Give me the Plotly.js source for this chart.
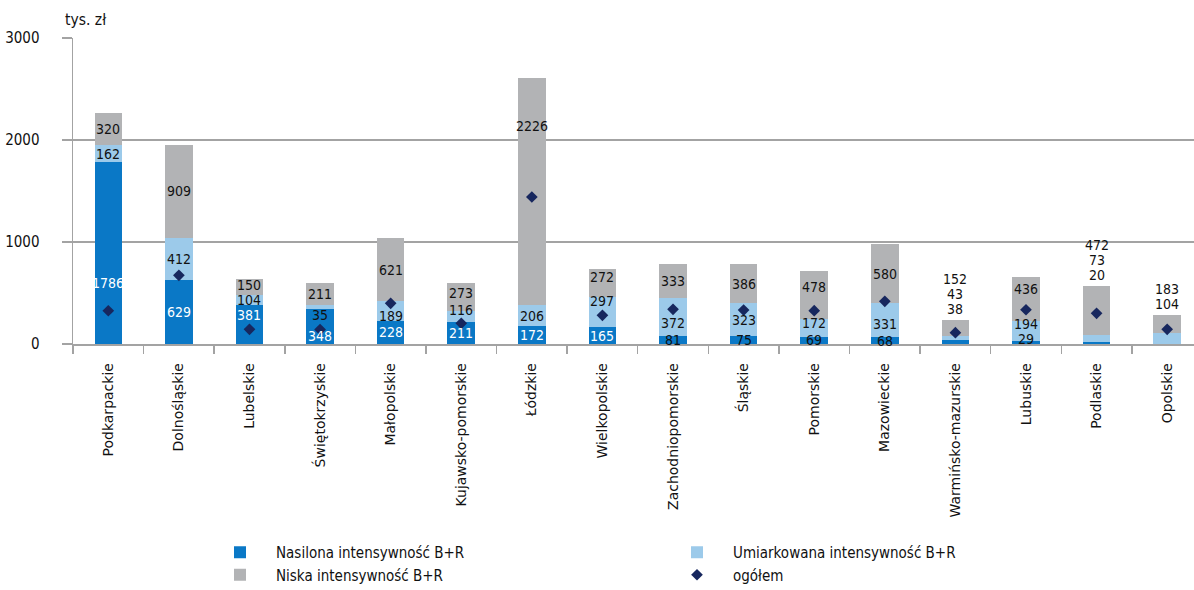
<!DOCTYPE html>
<html><head><meta charset="utf-8">
<script src="https://cdn.plot.ly/plotly-3.0.1.min.js"></script>
<style>html,body{margin:0;padding:0;background:#fff}#chart{width:1194px;height:590px}</style>
</head><body><div id="chart"></div>
<script>
// ---- data ----
const regions = ['Podkarpackie','Dolnośląskie','Lubelskie','Świętokrzyskie','Małopolskie','Kujawsko-pomorskie','Łódzkie','Wielkopolskie','Zachodniopomorskie','Śląskie','Pomorskie','Mazowieckie','Warmińsko-mazurskie','Lubuskie','Podlaskie','Opolskie'];
const nasilona    = [1786, 629, 381, 348, 228, 211, 172, 165,  81,  75,  69,  68,  38,  29,  20,   0];
const umiarkowana = [ 162, 412, 104,  35, 189, 116, 206, 297, 372, 323, 172, 331,  43, 194,  73, 104];
const niska       = [ 320, 909, 150, 211, 621, 273,2226, 272, 333, 386, 478, 580, 152, 436, 472, 183];
const ogolem      = [ 326, 673, 144, 142, 399, 203,1441, 281, 340, 333, 327, 418, 111, 336, 301, 144];
const seriesNames = ['Nasilona intensywność B+R','Umiarkowana intensywność B+R','Niska intensywność B+R','ogółem'];
const yTicks = [0, 1000, 2000, 3000];
const unitLabel = 'tys. zł';

// ---- style ----
const colors = ['#0a78c6', '#9ccaea', '#b2b3b5', '#17275e'];
const numFont = '"DejaVu Sans Condensed", "Liberation Sans Narrow", sans-serif';
const catFont = '"DejaVu Sans", sans-serif';
const gridCol = '#a3a3a3';
// label placement: regions whose labels are stacked above the bar
const labelsAbove = ['Warmińsko-mazurskie','Podlaskie','Opolskie'];
// small pixel nudges for in-bar labels (region|seriesIndex -> px up)
const nudge = {
  'Podkarpackie|0': -30, 'Lubelskie|0': 10, 'Lubelskie|2': 2, 'Świętokrzyskie|0': -10, 'Świętokrzyskie|1': -8,
  'Małopolskie|1': -5, 'Kujawsko-pomorskie|1': 7, 'Kujawsko-pomorskie|2': 4, 'Łódzkie|2': 66,
  'Wielkopolskie|1': 11, 'Wielkopolskie|2': 6, 'Zachodniopomorskie|1': -6, 'Pomorskie|1': 5,
  'Pomorskie|2': 8, 'Mazowieckie|1': -4, 'Lubuskie|0': 4, 'Lubuskie|1': 7, 'Lubuskie|2': 10
};
const numSize = 14;

const stacks = [nasilona, umiarkowana, niska];
const traces = stacks.map((vals, s) => ({
  type: 'bar', x: regions, y: vals, name: seriesNames[s],
  marker: {color: colors[s], line: {width: 0}}, width: 0.39, hoverinfo: 'x+y'
}));
traces.push({
  type: 'scatter', mode: 'markers', x: regions, y: ogolem, name: seriesNames[3],
  marker: {symbol: 'diamond', size: 9, color: colors[3]}
});

const annotations = [];
regions.forEach((r, i) => {
  const vals = stacks.map(a => a[i]);
  const total = vals.reduce((a, b) => a + b, 0);
  if (labelsAbove.includes(r)) {
    let k = 0;
    vals.forEach(v => {
      if (v > 0) {
        annotations.push({x: r, y: total, xref: 'x', yref: 'y', text: String(v), showarrow: false,
          yanchor: 'middle', yshift: 11 + 15 * k, font: {family: numFont, size: numSize, color: '#111'}});
        k++;
      }
    });
    return;
  }
  let base = 0;
  vals.forEach((v, s) => {
    if (v > 0) {
      const white = (s === 0 && v >= 150);
      annotations.push({x: r, y: base + v / 2, xref: 'x', yref: 'y', text: String(v), showarrow: false,
        yanchor: 'middle', yshift: nudge[r + '|' + s] || 0,
        font: {family: numFont, size: numSize, color: white ? '#ffffff' : '#111'}});
    }
    base += v;
  });
});
annotations.push({xref: 'paper', yref: 'paper', x: -10 / 1121, y: (344 - 20) / 306, xanchor: 'left', yanchor: 'middle',
  text: unitLabel, showarrow: false, font: {family: numFont, size: 15.5, color: '#111'}});

const layout = {
  width: 1194, height: 590,
  margin: {l: 73, r: 0, t: 38, b: 246},
  paper_bgcolor: '#ffffff', plot_bgcolor: '#ffffff',
  barmode: 'stack', showlegend: true,
  xaxis: {
    type: 'category', range: [-0.5, 15.38], tickson: 'boundaries', ticks: 'outside', ticklen: 8,
    tickcolor: gridCol, tickwidth: 1.5, tickangle: -90, ticklabelstandoff: 12,
    tickfont: {family: catFont, size: 14, color: '#111'},
    showline: true, linecolor: gridCol, linewidth: 1.5, showgrid: false, zeroline: false
  },
  yaxis: {
    range: [0, 3000], tickvals: yTicks, ticks: 'outside', ticklen: 10, tickcolor: gridCol, tickwidth: 1.5,
    ticklabelstandoff: 19, tickfont: {family: numFont, size: 15, color: '#111'},
    showgrid: true, gridcolor: gridCol, gridwidth: 1.5, showline: true, linecolor: gridCol, linewidth: 1.5,
    zeroline: false
  },
  legend: {
    orientation: 'h', xref: 'container', yref: 'container', x: 204 / 1194, y: 1 - 536 / 590,
    xanchor: 'left', yanchor: 'top', entrywidth: 380, entrywidthmode: 'pixels', itemwidth: 62,
    traceorder: 'normal', bgcolor: 'rgba(0,0,0,0)',
    font: {family: numFont, size: 15, color: '#111'}
  },
  annotations: annotations
};

Plotly.newPlot('chart', traces, layout, {displayModeBar: false, staticPlot: true});
</script>
</body></html>
